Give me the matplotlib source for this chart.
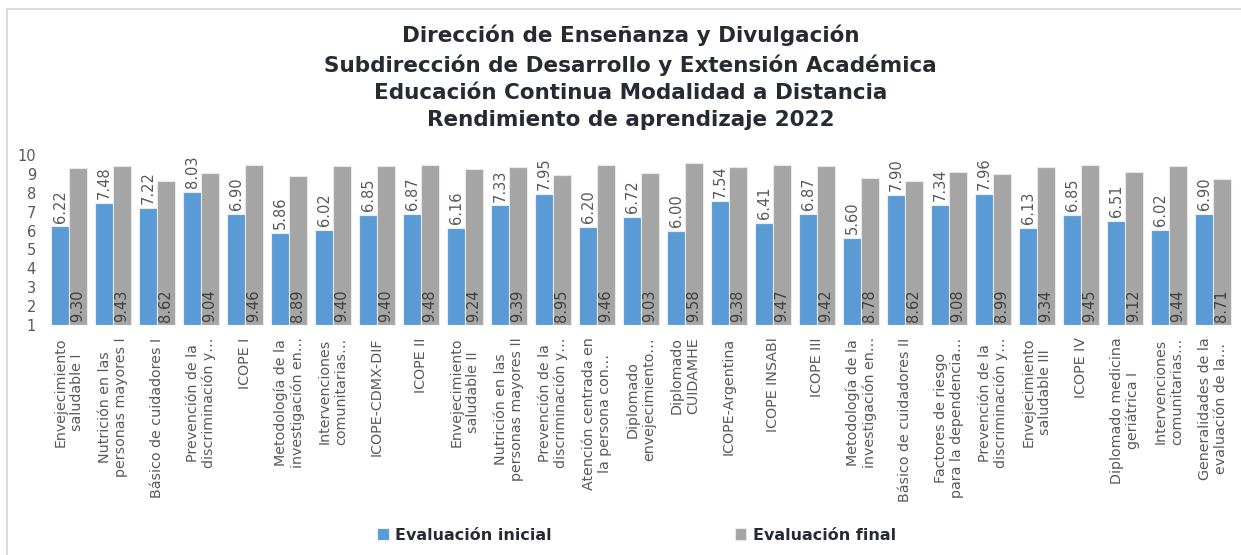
import numpy as np
import matplotlib
matplotlib.use("Agg")
import matplotlib.pyplot as plt
from matplotlib.patches import Rectangle

cursos = [
    "Envejecimiento\nsaludable I",
    "Nutrición en las\npersonas mayores I",
    "Básico de cuidadores I",
    "Prevención de la\ndiscriminación y…",
    "ICOPE I",
    "Metodología de la\ninvestigación en…",
    "Intervenciones\ncomunitarias…",
    "ICOPE-CDMX-DIF",
    "ICOPE II",
    "Envejecimiento\nsaludable II",
    "Nutrición en las\npersonas mayores II",
    "Prevención de la\ndiscriminación y…",
    "Atención centrada en\nla persona con…",
    "Diplomado\nenvejecimiento…",
    "Diplomado\nCUIDAMHE",
    "ICOPE-Argentina",
    "ICOPE INSABI",
    "ICOPE III",
    "Metodología de la\ninvestigación en…",
    "Básico de cuidadores II",
    "Factores de riesgo\npara la dependencia…",
    "Prevención de la\ndiscriminación y…",
    "Envejecimiento\nsaludable III",
    "ICOPE IV",
    "Diplomado medicina\ngeriátrica I",
    "Intervenciones\ncomunitarias…",
    "Generalidades de la\nevaluación de la…",
]
eval_inicial = [6.22, 7.48, 7.22, 8.03, 6.90, 5.86, 6.02, 6.85, 6.87, 6.16,
                7.33, 7.95, 6.20, 6.72, 6.00, 7.54, 6.41, 6.87, 5.60, 7.90,
                7.34, 7.96, 6.13, 6.85, 6.51, 6.02, 6.90]
eval_final = [9.30, 9.43, 8.62, 9.04, 9.46, 8.89, 9.40, 9.40, 9.48, 9.24,
              9.39, 8.95, 9.46, 9.03, 9.58, 9.38, 9.47, 9.42, 8.78, 8.62,
              9.08, 8.99, 9.34, 9.45, 9.12, 9.44, 8.71]
yticks = list(range(1, 11))

titulo = ("Dirección de Enseñanza y Divulgación\n"
          "Subdirección de Desarrollo y Extensión Académica\n"
          "Educación Continua Modalidad a Distancia\n"
          "Rendimiento de aprendizaje 2022")

AZUL = "#5B9BD5"
GRIS = "#A5A5A5"
TXT = "#595959"

plt.rcParams["font.family"] = ["DejaVu Sans"]

fig = plt.figure(figsize=(12.41, 5.55), dpi=100)
ax = fig.add_axes([47 / 1241, 1 - 325 / 555, 1188 / 1241, 170 / 555])

x = np.arange(len(cursos))
w = 0.4
base = 1
ini = np.array(eval_inicial) - base
fin = np.array(eval_final) - base
b1 = ax.bar(x - w / 2, ini, w, bottom=base, color=AZUL, edgecolor="#E6EEF7",
            linewidth=0.8, label="Evaluación inicial")
b2 = ax.bar(x + w / 2, fin, w, bottom=base, color=GRIS, edgecolor="#E8E8E8",
            linewidth=0.8, label="Evaluación final")

# initial scores sit above the blue bars, final scores inside the base of the grey ones
for xi, v in zip(x, eval_inicial):
    ax.text(xi - w / 2, v + 0.2, f"{v:.2f}", rotation=90, ha="center",
            va="bottom", fontsize=10.5, color=TXT)
for xi, v in zip(x, eval_final):
    ax.text(xi + w / 2, base + 0.15, f"{v:.2f}", rotation=90, ha="center",
            va="bottom", fontsize=10.5, color="#404040")

ax.set_xlim(-0.5, len(cursos) - 0.5)
ax.set_ylim(1, 10)
ax.set_yticks(yticks)
ax.tick_params(axis="y", length=0, pad=8, labelsize=10.5, labelcolor=TXT)
ax.set_xticks(x)
ax.set_xticklabels(cursos, rotation=90, ha="center", va="top",
                   multialignment="center", fontsize=10.3, color=TXT)
ax.tick_params(axis="x", length=0, pad=9)
for s in ax.spines.values():
    s.set_visible(False)

fig.text(0.508, 1 - 25 / 555, titulo, ha="center", va="top", fontsize=15.5,
         fontweight="bold", color="#262A33", linespacing=1.45)

leg = fig.legend(handles=[b1, b2], loc="center", bbox_to_anchor=(0.513, 1 - 535 / 555),
                 ncol=2, frameon=False, columnspacing=11.5, handlelength=0.7,
                 handleheight=0.7, handletextpad=0.4,
                 prop={"size": 11.5, "weight": "bold"})
for t in leg.get_texts():
    t.set_color("#262A33")

fig.patches.append(Rectangle((7 / 1241, -0.1), 1.2, 1.1 - 9 / 555 + 0.0,
                             transform=fig.transFigure, fill=False,
                             edgecolor="#D4D4D4", linewidth=1.2))

fig.savefig("out.png", dpi=100)
